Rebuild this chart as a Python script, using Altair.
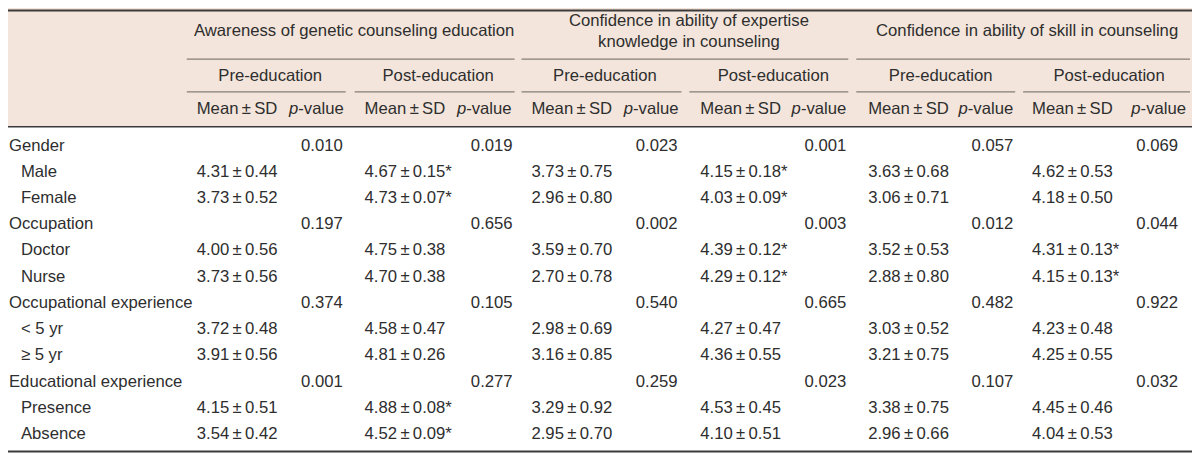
import altair as alt
import pandas as pd

# ---------------- data ----------------
row_labels = ["Gender", "Male", "Female",
              "Occupation", "Doctor", "Nurse",
              "Occupational experience", "< 5 yr", "\u2265 5 yr",
              "Educational experience", "Presence", "Absence"]
row_is_group = [True, False, False, True, False, False,
                True, False, False, True, False, False]

group_titles = [["Awareness of genetic counseling education"],
                ["Confidence in ability of expertise", "knowledge in counseling"],
                ["Confidence in ability of skill in counseling"]]
phase_titles = ["Pre-education", "Post-education"]

aware_pre_msd = ["4.31±0.44", "3.73±0.52", "4.00±0.56", "3.73±0.56",
                 "3.72±0.48", "3.91±0.56", "4.15±0.51", "3.54±0.42"]
aware_post_msd = ["4.67±0.15*", "4.73±0.07*", "4.75±0.38", "4.70±0.38",
                  "4.58±0.47", "4.81±0.26", "4.88±0.08*", "4.52±0.09*"]
know_pre_msd = ["3.73±0.75", "2.96±0.80", "3.59±0.70", "2.70±0.78",
                "2.98±0.69", "3.16±0.85", "3.29±0.92", "2.95±0.70"]
know_post_msd = ["4.15±0.18*", "4.03±0.09*", "4.39±0.12*", "4.29±0.12*",
                 "4.27±0.47", "4.36±0.55", "4.53±0.45", "4.10±0.51"]
skill_pre_msd = ["3.63±0.68", "3.06±0.71", "3.52±0.53", "2.88±0.80",
                 "3.03±0.52", "3.21±0.75", "3.38±0.75", "2.96±0.66"]
skill_post_msd = ["4.62±0.53", "4.18±0.50", "4.31±0.13*", "4.15±0.13*",
                  "4.23±0.48", "4.25±0.55", "4.45±0.46", "4.04±0.53"]

aware_pre_p = ["0.010", "0.197", "0.374", "0.001"]
aware_post_p = ["0.019", "0.656", "0.105", "0.277"]
know_pre_p = ["0.023", "0.002", "0.540", "0.259"]
know_post_p = ["0.001", "0.003", "0.665", "0.023"]
skill_pre_p = ["0.057", "0.012", "0.482", "0.107"]
skill_post_p = ["0.069", "0.044", "0.922", "0.032"]

msd_cols = [aware_pre_msd, aware_post_msd, know_pre_msd,
            know_post_msd, skill_pre_msd, skill_post_msd]
p_cols = [aware_pre_p, aware_post_p, know_pre_p,
          know_post_p, skill_pre_p, skill_post_p]

# ---------------- layout ----------------
W, H = 1200, 455
FONT = "Liberation Sans"
FS = 16.8
TXT = "#2e2e2e"
mean_left = [198, 367, 535, 705, 874, 1039]
p_right = [345, 516, 682, 852, 1020, 1186]
p_head_right = [346, 515, 683, 852, 1020, 1194]
row_y0, row_step = 145, 26.4
TS = "\u2009"
VALUE_W = 2.723 * FS  # width of "-value"


def fmt(s):
    return s.replace("±", TS + "±" + TS)


left_rows, right_rows, center_rows, ital_rows = [], [], [], []

# row labels
for i, (lab, grp) in enumerate(zip(row_labels, row_is_group)):
    left_rows.append({"x": 9 if grp else 21, "y": row_y0 + i * row_step, "t": lab})

# values
sub_idx = [i for i, g in enumerate(row_is_group) if not g]
grp_idx = [i for i, g in enumerate(row_is_group) if g]
for c in range(6):
    for k, ri in enumerate(sub_idx):
        left_rows.append({"x": mean_left[c], "y": row_y0 + ri * row_step, "t": fmt(msd_cols[c][k])})
    for k, ri in enumerate(grp_idx):
        right_rows.append({"x": p_right[c], "y": row_y0 + ri * row_step, "t": p_cols[c][k]})
    # column header
    left_rows.append({"x": mean_left[c], "y": 108, "t": "Mean" + TS + "±" + TS + "SD"})
    right_rows.append({"x": p_head_right[c], "y": 108, "t": "-value"})
    ital_rows.append({"x": p_head_right[c] - VALUE_W, "y": 108, "t": "p"})
    # phase header
    center_rows.append({"x": (mean_left[c] + p_head_right[c]) / 2, "y": 75, "t": phase_titles[c % 2]})

# group headers
for g in range(3):
    cx = (mean_left[2 * g] + p_head_right[2 * g + 1]) / 2
    lines = group_titles[g]
    if len(lines) == 1:
        center_rows.append({"x": cx, "y": 30, "t": lines[0]})
    else:
        center_rows.append({"x": cx, "y": 19.5, "t": lines[0]})
        center_rows.append({"x": cx, "y": 40.5, "t": lines[1]})

# rules
DARK = "#3a3a3a"
GREY = "#857c77"
rules = [
    {"x": 0, "x2": W, "y": 9, "c": DARK, "w": 2},
    {"x": 0, "x2": W, "y": 126, "c": DARK, "w": 1.5},
    {"x": 0, "x2": W, "y": 453, "c": DARK, "w": 2},
]
grp_ends = [(188, 518), (525, 854), (862, 1198)]
for a, b in grp_ends:
    rules.append({"x": a, "x2": b, "y": 58, "c": GREY, "w": 1.3})
sub_ends = [(188, 348), (357, 518), (525, 686), (694, 854), (862, 1022), (1030, 1198)]
for a, b in sub_ends:
    rules.append({"x": a, "x2": b, "y": 91, "c": GREY, "w": 1.3})

bg = pd.DataFrame([{"x": 0, "x2": W, "y": 0, "y2": 126}])

xs = alt.Scale(domain=[0, W], nice=False, zero=False)
ys = alt.Scale(domain=[0, H], nice=False, zero=False, reverse=True)

bg_layer = alt.Chart(bg).mark_rect(color="#F3E5DB").encode(
    x=alt.X("x:Q", scale=xs, axis=None), x2="x2:Q",
    y=alt.Y("y:Q", scale=ys, axis=None), y2="y2:Q")

rule_layer = alt.Chart(pd.DataFrame(rules)).mark_rule().encode(
    x=alt.X("x:Q", scale=xs, axis=None), x2="x2:Q",
    y=alt.Y("y:Q", scale=ys, axis=None),
    color=alt.Color("c:N", scale=None),
    strokeWidth=alt.StrokeWidth("w:Q", scale=None))


def text_layer(rows, align, style="normal"):
    return alt.Chart(pd.DataFrame(rows)).mark_text(
        align=align, baseline="middle", font=FONT, fontSize=FS,
        fontStyle=style, color=TXT).encode(
        x=alt.X("x:Q", scale=xs, axis=None),
        y=alt.Y("y:Q", scale=ys, axis=None),
        text="t:N")


chart = alt.layer(
    bg_layer, rule_layer,
    text_layer(left_rows, "left"),
    text_layer(right_rows, "right"),
    text_layer(center_rows, "center"),
    text_layer(ital_rows, "right", "italic"),
).properties(
    width=W, height=H,
    autosize=alt.AutoSizeParams(type="none"),
    padding={"left": -8, "top": -8, "right": 0, "bottom": 0},
    background="white",
).configure_view(stroke=None)

chart.save("out.html", embed_options={"renderer": "svg", "actions": False})
